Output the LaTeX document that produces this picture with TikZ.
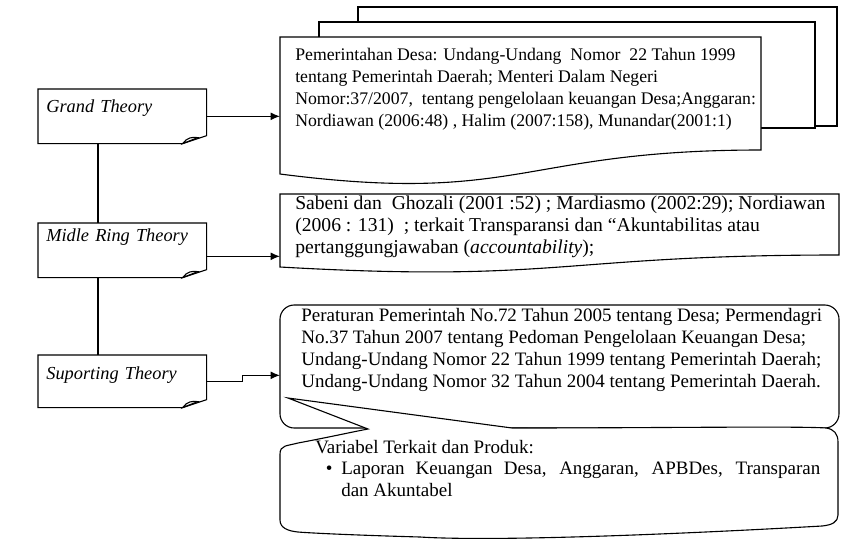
\documentclass[tikz,border=0pt]{standalone}
\usepackage{fontspec}
\setmainfont{Liberation Serif}
\usetikzlibrary{arrows.meta,calc}
\newcommand{\pxu}{0.632pt}

\begin{document}
\begin{tikzpicture}[x=\pxu,y=-\pxu,
	borde/.style={line width=0.7pt},
	caja/.style={line width=0.7pt,fill=white},
	flecha/.style={line width=0.7pt,-{Latex[length=6pt,width=5pt]}},
	teoria/.style={anchor=north west,inner xsep=5.06pt,inner ysep=0pt,text width=96.06pt,align=left,font=\fontsize{11.6pt}{14pt}\selectfont\itshape},
	texto/.style={anchor=north west,inner ysep=0pt,align=left,font=\fontsize{12pt}{13.9pt}\selectfont}]
	\useasboundingbox (0,0) rectangle (841,538); % marco
	\draw[caja] (358,7) rectangle (837,126); % hoja de atras
	\draw[caja] (319,22) rectangle (815,128); % hoja del medio
	\draw[caja] (280,37) -- (761,37) -- (761,150) .. controls (520,150) and (520,205) .. (280,174) -- cycle; % hoja delantera
	\draw[caja] (280,194) -- (839,194) -- (839,255) .. controls (560,255) and (560,283) .. (280,267) -- cycle; % documento 2
	\draw[caja,rounded corners=9pt] (280,305) rectangle (839,428); % globo 1
	\draw[caja] (280,520) -- (280,454) .. controls (280,445) and (287,446) .. (298,443)
		.. controls (330,437) and (352,432) .. (368,429) -- (288,398) -- (512,428)
		.. controls (650,428) and (800,426) .. (826,428) .. controls (834,429) and (838,434) .. (838,442)
		-- (838,515) .. controls (838,522) and (832,525) .. (822,526)
		.. controls (700,533) and (500,542) .. (420,537) .. controls (350,535) and (310,533) .. (298,532)
		.. controls (288,531) and (280,528) .. (280,520) -- cycle; % globo 2 con punta
	\node[teoria,minimum height=34.13pt,text depth=12.7pt] (grand) at (38,89) {Grand Theory};
	\node[teoria,minimum height=34.13pt,text depth=19pt] (midle) at (38,223) {Midle Ring Theory};
	\node[teoria,minimum height=32.86pt,text depth=10.2pt] (suport) at (38,355) {Suporting Theory};
	\foreach \n in {grand,midle,suport}{
		\draw[borde] (\n.north west) -- (\n.north east) -- ($(\n.south east)+(0,-8)$) -- ($(\n.south east)+(-24,0)$) -- (\n.south west) -- cycle;
		\draw[borde] ($(\n.south east)+(-24,0)$) .. controls ($(\n.south east)+(-20,-6)$) and ($(\n.south east)+(-14,-7)$) .. ($(\n.south east)+(-9,-6)$) -- cycle; % esquina doblada
	}
	\node[texto,inner xsep=9.48pt,font=\fontsize{11.2pt}{13.9pt}\selectfont] (ley) at (280,48) {Pemerintahan Desa: Undang-Undang\ \ Nomor\ \ 22 Tahun 1999\\tentang Pemerintah Daerah; Menteri Dalam Negeri\\Nomor:37/2007,\ \ tentang pengelolaan keuangan Desa;Anggaran:\\Nordiawan (2006:48) , Halim (2007:158), Munandar(2001:1)};
	\node[texto,inner xsep=9.48pt,font=\fontsize{12.4pt}{13.9pt}\selectfont] (sabeni) at (280,196) {Sabeni dan\ \ Ghozali (2001 :52) ; Mardiasmo (2002:29); Nordiawan\\(2006 : 131)\ \ ; terkait Transparansi dan “Akuntabilitas atau\\pertanggungjawaban (\textit{accountability});};
	\node[texto,inner xsep=13.27pt] (peraturan) at (280,308) {Peraturan Pemerintah No.72 Tahun 2005 tentang Desa; Permendagri\\No.37 Tahun 2007 tentang Pedoman Pengelolaan Keuangan Desa;\\Undang-Undang Nomor 22 Tahun 1999 tentang Pemerintah Daerah;\\Undang-Undang Nomor 32 Tahun 2004 tentang Pemerintah Daerah.};
	\node[texto,inner xsep=0pt] (variabel) at (315,440) {Variabel Terkait dan Produk:};
	\node[texto,inner xsep=0pt,text width=302.7pt,align=justify] (produk) at (341,462) {\noindent\llap{\textbullet\hspace{5.5pt}}Laporan Keuangan Desa, Anggaran, APBDes, Transparan\linebreak dan Akuntabel};
	\draw[flecha] (grand.east) -- (grand.east -| ley.west); % a teoria grande
	\draw[flecha] ($(midle.east)+(0,6)$) -- ($(midle.east -| sabeni.west)+(0,6)$);
	\draw[flecha] (suport.east) -- ++(36,0) -- ++(0,-6) -- ($(suport.east -| peraturan.west)+(0,-6)$);
	\draw[borde] ($(grand.south west)+(60,0)$) -- ($(midle.north west)+(60,0)$); % union vertical
	\draw[borde] ($(midle.south west)+(60,0)$) -- ($(suport.north west)+(60,0)$);
\end{tikzpicture}
\end{document}
